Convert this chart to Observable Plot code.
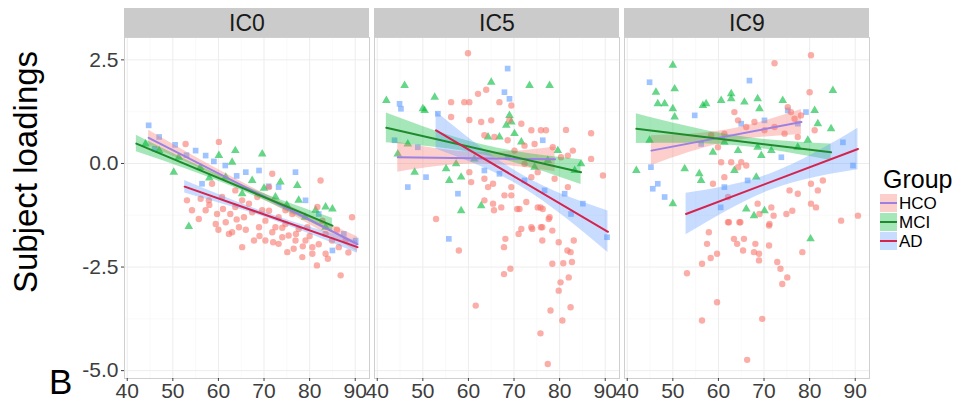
<!DOCTYPE html>
<html>
<head>
<meta charset="utf-8">
<script src="https://cdn.jsdelivr.net/npm/d3@7"></script>
<script src="https://cdn.jsdelivr.net/npm/@observablehq/plot@0.6"></script>
<style>
  body { margin: 0; background: #fff; }
  #chart { width: 966px; height: 405px; }
  #chart svg { font-family: "Liberation Sans", Arial, sans-serif; background: #fff; }
</style>
</head>
<body>
<div id="chart"></div>
<script>
// Independent components (facets) and diagnostic groups
const components = ["IC0", "IC5", "IC9"];
const groups = ["HCO", "MCI", "AD"];
const xTicks = [40, 50, 60, 70, 80, 90];
const xMinor = [45, 55, 65, 75, 85];
const yTicks = [-5, -2.5, 0, 2.5];
const yMinor = [-3.75, -1.25, 1.25];

// Subject loadings against age: [age, loading]
const ic0HCO = [[44.7,0.92],[47.0,0.64],[46.0,0.35],[50.5,0.45],[53.0,0.20],[55.0,0.31],[57.2,0.19],[56.4,-0.49],[59.0,0.05],[61.5,-0.05],[64.0,-0.30],[66.0,-0.21],[68.9,-0.17],[71.0,-0.55],[73.2,-0.57],[76.9,-0.21],[79.1,-0.89],[82.0,-1.22],[85.0,-2.10],[87.5,-1.70],[90.1,-1.86]];
const ic0MCI = [[44.0,0.47],[47.0,0.31],[50.2,-0.21],[51.3,0.15],[53.5,-1.52],[56.0,-0.10],[58.0,-0.35],[60.1,0.19],[61.6,-0.33],[63.0,0.03],[63.7,0.31],[65.2,-0.73],[67.4,-0.41],[69.6,0.23],[70.0,-0.60],[72.5,-0.81],[73.6,-0.45],[75.0,-1.00],[77.3,-0.53],[77.6,-0.89],[79.0,-1.30],[81.3,-1.13],[83.5,-1.05],[83.5,-1.54],[85.0,-1.10]];
const ic0AD = [[52.8,0.47],[60.1,0.52],[71.8,-0.25],[82.4,-0.41],[89.3,-1.30],[65.2,-2.02],[67.8,-1.86],[75.1,-2.14],[78.4,-2.26],[81.6,-2.46],[86.8,-2.70],[53.1,-0.89],[56.1,-0.85],[57.2,-1.13],[58.6,-0.49],[59.7,-1.22],[61.6,-1.42],[62.6,-1.22],[63.0,-1.66],[64.5,-1.54],[65.6,-1.30],[66.7,-0.97],[68.9,-1.54],[69.6,-1.13],[70.3,-1.38],[71.8,-1.66],[73.2,-1.30],[74.7,-1.46],[75.4,-1.74],[76.2,-1.22],[77.6,-1.58],[79.1,-1.86],[80.6,-2.02],[81.7,-1.05],[83.5,-1.70],[84.9,-1.86],[86.4,-2.02],[87.9,-1.86],[82.8,-1.38],[55.7,-1.34],[57.9,-0.89],[60.8,-0.81],[63.7,-1.05],[65.2,-0.89],[67.4,-1.18],[71.1,-1.14],[72.5,-1.54],[74.0,-1.78],[76.9,-1.86],[79.5,-1.54],[80.6,-2.18],[83.5,-2.18],[76.5,-2.06],[70.3,-1.86],[73.2,-1.94],[62.3,-1.70],[59.4,-1.46],[54.2,-1.13],[74.7,-1.13],[68.5,-0.81],[63.7,-0.65],[71.1,-0.57],[58.0,-1.00],[61.0,-1.10],[64.0,-1.35],[66.0,-1.60],[69.0,-1.75],[72.0,-1.90],[74.0,-1.55],[77.0,-1.70],[78.5,-2.00],[80.0,-1.75],[82.0,-1.95],[84.0,-2.30],[86.0,-1.60],[88.5,-2.15],[60.0,-1.60]];

const ic5HCO = [[44.9,1.44],[45.2,1.32],[68.6,2.29],[69.0,1.56],[67.9,1.72],[53.3,1.20],[46.7,-0.57],[50.7,-0.33],[57.7,-0.73],[85.1,-0.97],[82.5,-1.22],[81.1,-0.73],[72.3,-0.41],[66.8,-0.25],[76.3,0.56],[76.7,-0.65],[68.6,0.15],[63.5,-0.17],[48.9,0.39],[43.8,0.56],[55.7,-1.82],[90.4,-1.78]];
const ic5MCI = [[42.0,1.52],[46.0,1.88],[50.0,1.32],[50.4,1.28],[52.6,1.60],[65.0,1.96],[73.4,1.88],[77.8,1.88],[69.4,1.00],[68.3,0.92],[69.0,1.16],[64.3,0.64],[66.8,0.64],[71.6,0.52],[70.1,0.72],[84.7,-0.01],[83.3,-0.17],[55.8,-0.41],[57.3,-0.01],[55.1,-0.13],[58.4,-1.14],[62.8,-1.02],[46.7,0.47],[44.5,0.23],[48.2,-0.21],[61.3,0.11],[58.4,-0.33],[77.4,0.07],[74.5,-0.09],[79.6,0.31]];
const ic5AD = [[59.9,2.66],[56.2,1.48],[56.2,1.12],[59.1,1.48],[60.2,1.48],[62.1,1.68],[63.9,1.78],[66.8,1.48],[69.4,1.40],[60.2,1.05],[62.8,1.00],[65.0,1.04],[69.0,1.05],[71.6,0.96],[73.8,0.80],[75.9,0.80],[77.0,0.80],[81.4,0.81],[86.9,0.73],[86.9,0.11],[89.5,-0.29],[81.8,0.19],[82.9,0.31],[80.3,0.15],[78.5,0.39],[74.5,0.47],[72.3,0.43],[70.1,0.31],[65.7,0.64],[63.5,0.68],[68.6,0.56],[72.3,-0.01],[75.2,-0.21],[73.8,-0.33],[69.4,-0.57],[65.4,-0.49],[64.3,-0.57],[63.5,-0.89],[65.4,-0.97],[67.2,-1.06],[69.4,-0.77],[71.2,-1.10],[72.7,-0.93],[75.2,-1.06],[76.3,-1.10],[77.8,-1.30],[60.6,-0.45],[52.9,-1.34],[81.8,-0.57],[73.8,-1.54],[75.9,-1.54],[71.6,-1.58],[60.2,-0.21],[63.5,-0.37],[67.9,-0.77],[78.9,-0.37],[57.9,-2.10],[61.6,-3.43],[65.6,-1.13],[67.8,-2.02],[67.8,-2.67],[69.2,-2.54],[71.0,-1.70],[68.1,-1.82],[74.0,-1.58],[76.2,-1.54],[76.2,-1.86],[78.4,-1.62],[77.6,-1.34],[79.8,-1.90],[81.7,-2.10],[82.4,-2.14],[82.7,-2.38],[78.4,-2.42],[80.8,-2.41],[83.1,-1.86],[82.0,-2.75],[80.2,-2.87],[79.8,-3.07],[82.4,-3.47],[78.0,-3.55],[80.6,-3.79],[75.8,-4.10],[77.4,-4.84],[75.8,-1.06],[70.7,-1.10]];

const ic9HCO = [[44.9,1.96],[66.8,2.00],[54.8,1.16],[45.2,-0.09],[45.6,-0.61],[46.7,-0.49],[65.0,0.96],[70.1,1.04],[75.2,1.28],[79.2,1.24],[77.4,0.96],[89.5,-0.05],[87.3,0.51],[61.3,-0.57],[66.4,-0.41],[56.2,0.47],[73.8,0.15],[60.5,-1.06],[48.2,-0.81]];
const ic9MCI = [[50.0,2.37],[46.3,1.72],[50.4,1.80],[46.7,1.44],[48.2,1.44],[50.0,1.32],[50.4,1.12],[56.6,1.40],[57.3,1.44],[60.6,1.52],[62.8,1.68],[62.8,1.56],[65.7,1.48],[68.6,1.56],[69.0,1.32],[74.1,1.52],[85.1,1.76],[84.7,0.84],[81.1,1.28],[81.8,0.96],[42.0,-0.17],[52.6,-0.13],[55.8,-0.25],[56.2,-0.41],[58.8,0.27],[61.3,0.51],[64.3,0.31],[68.6,0.39],[69.4,0.19],[63.5,-0.17],[68.3,-0.33],[71.6,0.31],[77.4,0.39],[79.6,0.56],[50.0,-0.97],[66.1,-1.10],[70.1,-1.14],[44.9,0.56],[67.8,-1.26],[80.2,-1.82]];
const ic9AD = [[72.3,2.42],[80.3,2.61],[80.0,1.72],[81.1,0.80],[75.2,1.36],[75.9,1.24],[76.7,1.08],[78.1,1.16],[63.5,1.24],[64.3,1.04],[66.1,0.88],[67.9,1.00],[70.1,0.80],[72.3,0.88],[74.5,0.72],[77.4,0.64],[61.3,0.72],[59.9,0.39],[58.4,0.68],[60.6,0.03],[62.8,0.03],[65.0,0.03],[66.1,-0.05],[61.3,-0.33],[64.3,-0.09],[58.8,-0.49],[62.1,-0.81],[68.6,-0.97],[71.6,-1.06],[75.6,-0.65],[77.4,-0.73],[80.3,-0.49],[81.8,-0.65],[82.9,-0.41],[80.3,-0.97],[81.4,-1.06],[86.9,-1.38],[90.6,-1.26],[62.1,-1.42],[64.6,-1.42],[71.2,-1.46],[74.9,-1.22],[69.0,-1.22],[53.1,-2.65],[56.4,-2.42],[57.9,-1.66],[57.5,-1.94],[58.3,-2.28],[59.7,-2.18],[59.7,-3.35],[56.4,-3.79],[62.3,-1.42],[64.8,-1.42],[63.4,-1.82],[64.1,-1.94],[65.4,-2.10],[65.6,-1.82],[68.1,-1.94],[67.8,-2.14],[68.9,-2.34],[68.9,-2.18],[71.1,-1.50],[71.1,-1.98],[72.9,-2.38],[73.6,-2.54],[75.1,-2.75],[74.0,-2.91],[69.6,-3.75],[66.3,-4.74],[76.2,-1.14],[78.4,-2.14],[72.1,-1.26]];

// Linear fits per component and group:
// [component, group, age start, loading start, age end, loading end, CI half-width at start, middle, end]
const fits = [
  ["IC0", "HCO", 44.7, 0.62, 90.5, -1.95, 0.18, 0.07, 0.18],
  ["IC0", "MCI", 42.0, 0.48, 85.0, -1.50, 0.20, 0.07, 0.18],
  ["IC0", "AD",  52.6, -0.56, 90.5, -2.02, 0.15, 0.06, 0.15],
  ["IC5", "HCO", 44.5, 0.15, 79.0, 0.10, 0.36, 0.14, 0.30],
  ["IC5", "MCI", 42.0, 0.86, 84.7, -0.21, 0.36, 0.12, 0.30],
  ["IC5", "AD",  52.9, 0.80, 90.6, -1.65, 0.45, 0.15, 0.50],
  ["IC9", "HCO", 45.3, 0.31, 78.2, 1.00, 0.36, 0.15, 0.30],
  ["IC9", "MCI", 42.0, 0.84, 84.7, 0.27, 0.36, 0.12, 0.20],
  ["IC9", "AD",  52.9, -1.22, 90.6, 0.35, 0.50, 0.20, 0.50]
];

const pointColor = {HCO: "#619CFF", MCI: "#00BA38", AD: "#F8766D"};
const pointSymbol = {HCO: "square", MCI: "triangle", AD: "circle"};
const lineColor = {HCO: "#9c80e4", MCI: "#1f8a2b", AD: "#d6234d"};
const bandColor = {HCO: "#F8766D", MCI: "#00BA38", AD: "#619CFF"};

const pointSets = {
  IC0: {HCO: ic0HCO, MCI: ic0MCI, AD: ic0AD},
  IC5: {HCO: ic5HCO, MCI: ic5MCI, AD: ic5AD},
  IC9: {HCO: ic9HCO, MCI: ic9MCI, AD: ic9AD}
};
const points = components.flatMap(ic => groups.flatMap(g =>
  pointSets[ic][g].map(([age, loading]) => ({ic, group: g, age, loading}))));

const fitLines = fits.flatMap(([ic, group, a0, y0, a1, y1]) => [
  {ic, group, age: a0, loading: y0}, {ic, group, age: a1, loading: y1}]);
const bands = fits.flatMap(([ic, group, a0, y0, a1, y1, h0, hm, h1]) =>
  [[0, h0], [0.5, hm], [1, h1]].map(([t, h]) => {
    const age = a0 + t * (a1 - a0), c = y0 + t * (y1 - y0);
    return {ic, group, age, lo: c - h, hi: c + h};
  }));

const xDomain = [39.4, 93.13];
const yDomain = [-5.19, 3.04];

const marks = [
  Plot.ruleX(xMinor, {stroke: "#f6f6f6", strokeWidth: 0.6}),
  Plot.ruleY(yMinor, {stroke: "#f6f6f6", strokeWidth: 0.6}),
  Plot.ruleX(xTicks, {stroke: "#ededed", strokeWidth: 1}),
  Plot.ruleY(yTicks, {stroke: "#ededed", strokeWidth: 1}),
  ...groups.map(g => Plot.dot(points.filter(d => d.group === g), {
    x: "age", y: "loading", fx: "ic", symbol: pointSymbol[g], r: 3.2,
    fill: pointColor[g], fillOpacity: 0.6, stroke: "none"
  })),
  ...groups.map(g => Plot.areaY(bands.filter(d => d.group === g), {
    x: "age", y1: "lo", y2: "hi", fx: "ic", curve: "natural",
    fill: bandColor[g], fillOpacity: 0.35
  })),
  ...groups.map(g => Plot.line(fitLines.filter(d => d.group === g), {
    x: "age", y: "loading", fx: "ic", stroke: lineColor[g], strokeWidth: 2
  })),
  Plot.frame({stroke: "#cfcfcf"}),
  Plot.rect(components, {
    fx: d => d, x1: () => xDomain[0], x2: () => xDomain[1],
    y1: () => yDomain[1], y2: () => yDomain[1], insetTop: -29, fill: "#cbcbcb"
  }),
  Plot.text(components, {
    fx: d => d, text: d => d, frameAnchor: "top", lineAnchor: "middle", dy: -14,
    fontSize: 23, fill: "#1a1a1a"
  }),
  Plot.axisX(xTicks, {tickSize: 3, tickPadding: 2, fontSize: 21, color: "#3d3d3d", label: null}),
  Plot.axisY(yTicks, {tickSize: 3, tickPadding: 3, fontSize: 21, color: "#3d3d3d", label: null,
    tickFormat: d => d.toFixed(1)})
];

const plot = Plot.plot({
  width: 966,
  height: 405,
  marginLeft: 124,
  marginRight: 97,
  marginTop: 37,
  marginBottom: 27,
  fx: {domain: components, paddingInner: 0.02, paddingOuter: 0, axis: null},
  x: {domain: xDomain},
  y: {domain: yDomain},
  marks
});

// Axis title, panel tag and group legend
const svg = d3.select(plot);
svg.append("text")
  .attr("transform", "translate(37,172) rotate(-90)")
  .attr("text-anchor", "middle")
  .attr("font-size", 33)
  .attr("fill", "#000")
  .text("Subject loadings");
svg.append("text")
  .attr("x", 49).attr("y", 394)
  .attr("text-anchor", "start")
  .attr("font-size", 35)
  .attr("fill", "#000")
  .text("B");

const legend = svg.append("g").attr("text-anchor", "start");
legend.append("text")
  .attr("x", 883).attr("y", 188)
  .attr("font-size", 25).attr("fill", "#000")
  .text("Group");
groups.forEach((g, i) => {
  const cy = 203 + i * 19;
  legend.append("rect")
    .attr("x", 880).attr("y", cy - 9).attr("width", 17).attr("height", 18)
    .attr("fill", bandColor[g]).attr("fill-opacity", 0.35);
  legend.append("line")
    .attr("x1", 880).attr("x2", 897).attr("y1", cy).attr("y2", cy)
    .attr("stroke", lineColor[g]).attr("stroke-width", 2);
  legend.append("text")
    .attr("x", 899).attr("y", cy + 6)
    .attr("font-size", 17).attr("fill", "#000")
    .text(g);
});

document.getElementById("chart").appendChild(plot);
</script>
</body>
</html>
